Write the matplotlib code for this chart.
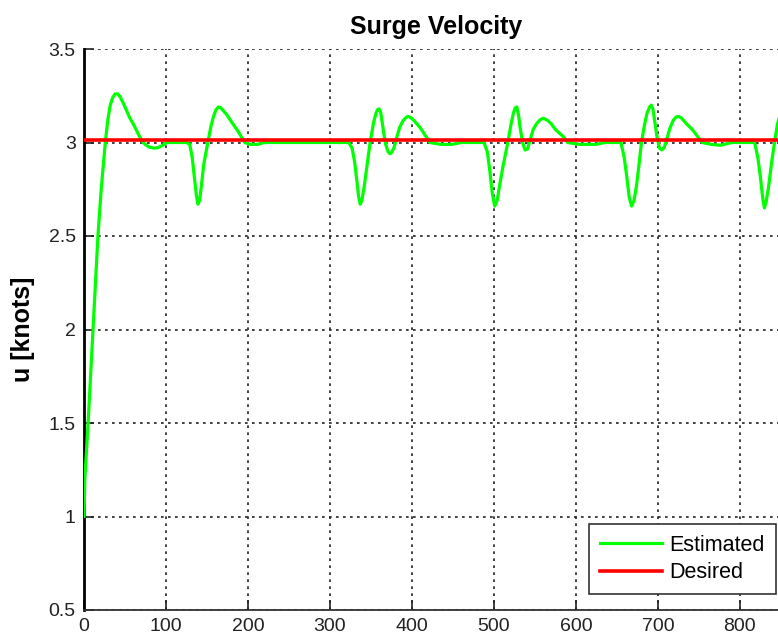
import matplotlib
matplotlib.use("Agg")
import matplotlib.pyplot as plt

# time [s] and estimated surge velocity [knots]
time = [0, 1, 3, 5, 8, 11, 14, 17, 21, 26, 29, 32, 35, 38, 41, 44, 48, 52, 56, 60, 64, 68, 72,
        76, 80, 85, 90, 96, 101,
        125, 129, 132, 135, 137, 139, 141, 143, 146, 151, 155, 158, 161, 164, 167, 170, 174, 180,
        188, 196, 203, 212, 220,
        323, 327, 330, 333, 335, 337, 339, 342, 345, 349, 353, 356, 358, 360, 362, 364, 366, 368,
        371, 373, 375, 378, 381, 385, 389, 392, 395, 398, 402, 410, 416, 422, 435, 449, 460,
        488, 492, 495, 498, 501, 504, 507, 511, 517, 521, 524, 526, 528, 530, 532, 535, 538, 541,
        544, 548, 552, 556, 560, 565, 570, 575, 580, 585, 590, 605, 625, 635,
        655, 659, 662, 665, 668, 671, 674, 677, 680, 684, 687, 690, 692, 694, 696, 699, 702, 705,
        708, 711, 715, 719, 722, 725, 729, 735, 742, 748, 754, 765, 776, 790,
        818, 822, 825, 828, 830, 832, 835, 839, 843, 846, 850, 855, 860]
estimated = [1.0, 1.2, 1.35, 1.5, 1.75, 2.0, 2.25, 2.5, 2.75, 3.0, 3.12, 3.2, 3.24, 3.26, 3.26,
             3.245, 3.21, 3.17, 3.13, 3.1, 3.065, 3.03, 3.0, 2.985, 2.975, 2.97, 2.972, 2.985, 3.0,
             3.0, 2.99, 2.92, 2.8, 2.72, 2.67, 2.69, 2.76, 2.88, 3.0, 3.09, 3.14, 3.175, 3.19,
             3.185, 3.17, 3.15, 3.11, 3.06, 3.0, 2.99, 2.99, 3.0,
             3.0, 2.97, 2.9, 2.79, 2.71, 2.67, 2.69, 2.77, 2.87, 3.0, 3.1, 3.155, 3.175, 3.18,
             3.16, 3.1, 3.04, 2.99, 2.95, 2.94, 2.945, 2.97, 3.02, 3.08, 3.115, 3.13, 3.14, 3.135,
             3.12, 3.08, 3.04, 3.0, 2.99, 2.99, 3.0,
             3.0, 2.95, 2.85, 2.73, 2.66, 2.69, 2.77, 2.87, 3.0, 3.1, 3.16, 3.185, 3.19, 3.15,
             3.08, 3.0, 2.96, 2.965, 3.01, 3.07, 3.1, 3.12, 3.13, 3.12, 3.1, 3.07, 3.05, 3.03,
             3.0, 2.99, 2.99, 3.0,
             3.0, 2.92, 2.82, 2.71, 2.66, 2.69, 2.77, 2.88, 3.0, 3.1, 3.16, 3.19, 3.2, 3.18, 3.12,
             3.03, 2.97, 2.96, 2.975, 3.02, 3.08, 3.12, 3.135, 3.14, 3.13, 3.1, 3.07, 3.035, 3.0,
             2.99, 2.985, 3.0,
             3.0, 2.92, 2.82, 2.7, 2.65, 2.68, 2.76, 2.9, 3.02, 3.1, 3.16, 3.2, 3.15]
desired_time = [0, 860]
desired = [3.015, 3.015]

xticks = [0, 100, 200, 300, 400, 500, 600, 700, 800]
yticks = [0.5, 1, 1.5, 2, 2.5, 3, 3.5]
ytick_labels = ["0.5", "1", "1.5", "2", "2.5", "3", "3.5"]

plt.rcParams["font.family"] = ["Liberation Sans", "DejaVu Sans"]

W, H = 778, 638
fig = plt.figure(figsize=(W / 100, H / 100), dpi=100)
fig.patch.set_facecolor("white")

# axes run a bit past the right edge of the picture, like the cropped original
left, right, top, bottom = 84, 789, 49, 610
ax = fig.add_axes([left / W, (H - bottom) / H, (right - left) / W, (bottom - top) / H])

ax.plot(time, estimated, color=(0, 1, 0), lw=2.3, label="Estimated", zorder=3)
ax.plot(desired_time, desired, color=(1, 0, 0), lw=2.6, label="Desired", zorder=4)

ax.set_xlim(0, 860)
ax.set_ylim(0.5, 3.5)
ax.set_xticks(xticks)
ax.set_xticklabels([str(v) for v in xticks])
ax.set_yticks(yticks)
ax.set_yticklabels(ytick_labels)
ax.grid(True, color="#222222", linestyle=(0, (1.6, 2.6)), linewidth=1.2)
ax.tick_params(direction="in", length=7, width=1.2, labelsize=14, colors="#222222", pad=6)
for s in ["top", "right"]:
    ax.spines[s].set_visible(False)
ax.spines["left"].set_linewidth(2)
ax.spines["bottom"].set_linewidth(1.3)
ax.spines["bottom"].set_color("#333333")

ax.set_title("Surge Velocity", fontsize=18, fontweight="bold", pad=11)
ax.set_ylabel("u [knots]", fontsize=18, fontweight="bold", labelpad=10)

leg = ax.legend(loc="lower left", bbox_to_anchor=(589 / W, (H - 594) / H),
                bbox_transform=fig.transFigure, fontsize=15.5, fancybox=False,
                edgecolor="#333333", framealpha=1, handlelength=2.9, borderaxespad=0,
                labelspacing=0.3, borderpad=0.5, handletextpad=0.35)
leg.get_frame().set_linewidth(1.2)

fig.savefig("out.png", dpi=100)
